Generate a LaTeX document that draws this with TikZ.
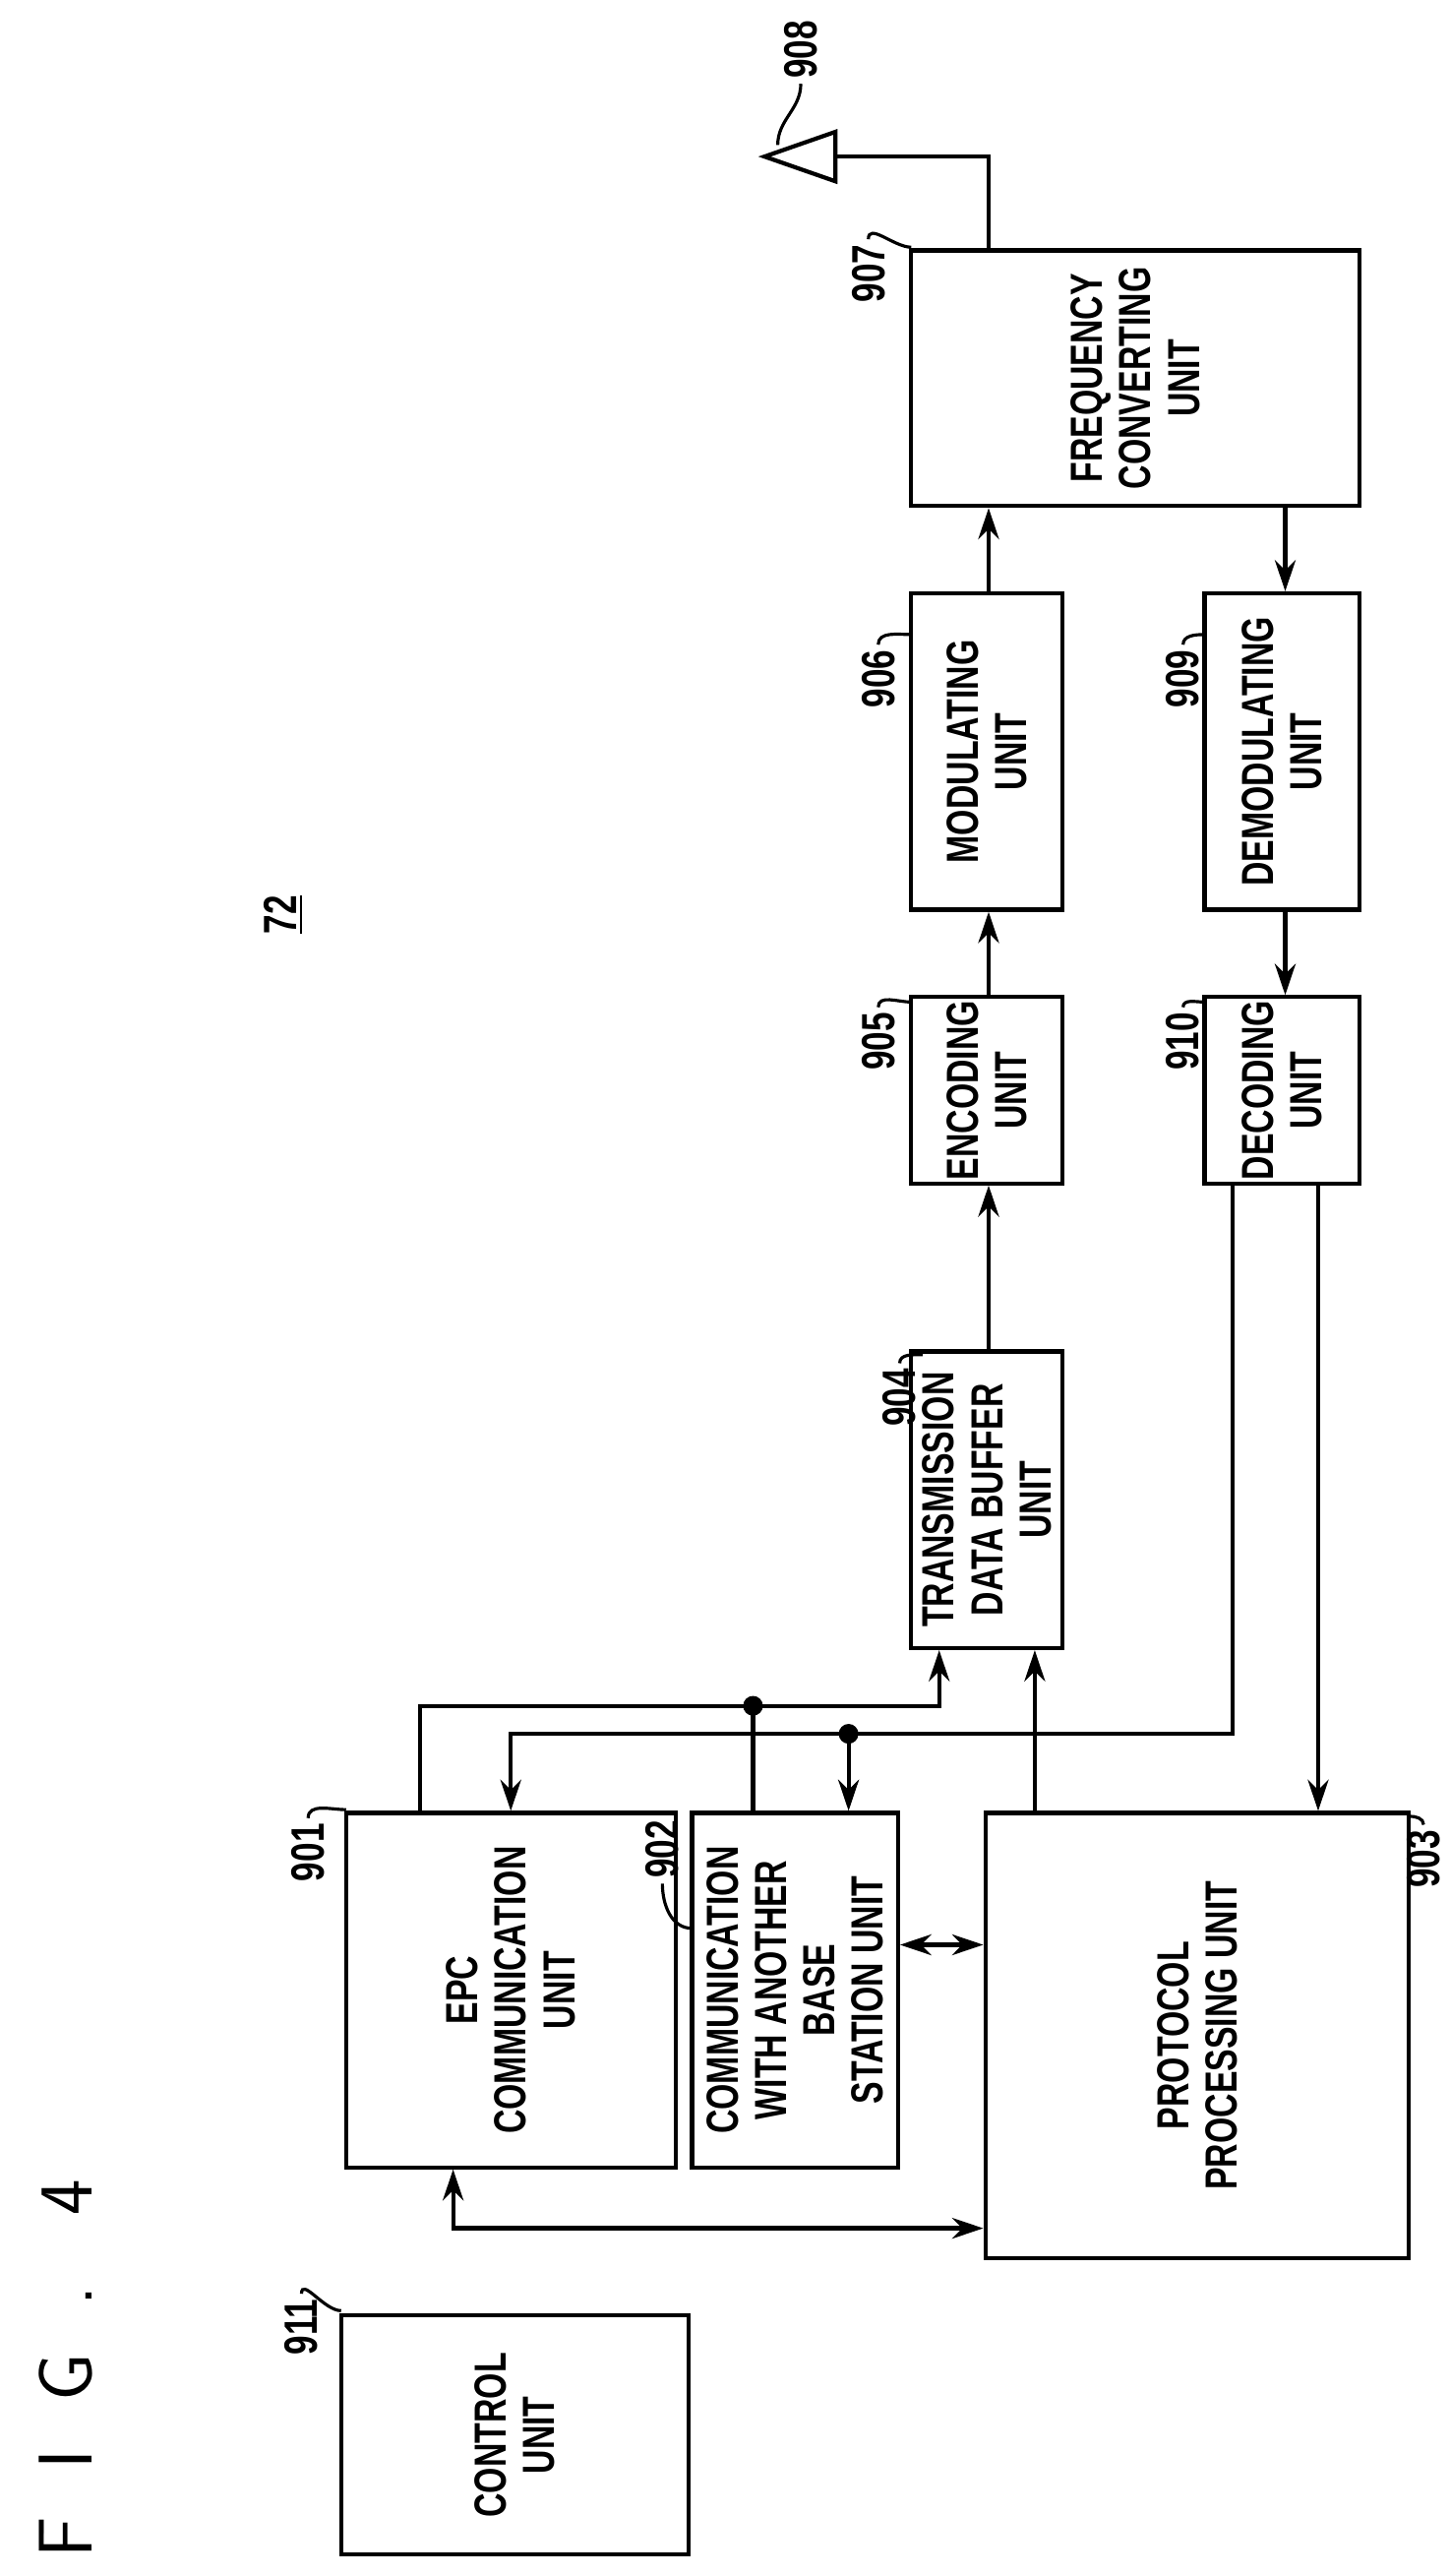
\documentclass[tikz,border=0pt]{standalone}
\usepackage{fontspec}
\newfontfamily\condfont[FakeStretch=0.74]{Liberation Sans}
\usetikzlibrary{arrows.meta,fit}
\begin{document}
\begin{tikzpicture}[x=0.01674cm,y=-0.01674cm,line width=1.2pt,
  box/.style={draw,inner sep=0pt},
  txt/.style={rotate=90,align=center,font=\condfont\bfseries\fontsize{13}{14}\selectfont},
  num/.style={rotate=90,font=\condfont\bfseries\fontsize{13.5}{13.5}\selectfont,inner sep=1pt},
  lead/.style={line width=0.9pt},
  arr/.style={-{Stealth[length=9pt,width=6pt]}},
  darr/.style={{Stealth[length=9pt,width=6pt]}-{Stealth[length=9pt,width=6pt]}}]
\useasboundingbox (0,0) rectangle (880,1563);
% blocks
\node[box,fit={(207,1405) (418,1550)}] (b911) {};
\node[box,fit={(210,1100) (410,1315)}] (b901) {};
\node[box,fit={(420,1100) (545,1315)}] (b902) {};
\node[box,fit={(598,1100) (855,1370)}] (b903) {};
\node[box,fit={(553,820) (645,1000)}] (b904) {};
\node[box,fit={(553,605) (645,718)}] (b905) {};
\node[box,fit={(553,360) (645,552)}] (b906) {};
\node[box,fit={(553,152) (825,307)}] (b907) {};
\node[box,fit={(731,360) (825,552)}] (b909) {};
\node[box,fit={(731,605) (825,718)}] (b910) {};
% texts
\node[txt] at (b911.center) {CONTROL\\UNIT};
\node[txt] at (b901.center) {EPC\\COMMUNICATION\\UNIT};
\node[txt] at (b902.center) {COMMUNICATION\\WITH ANOTHER\\BASE\\STATION UNIT};
\node[txt] at (b903.center) {PROTOCOL\\PROCESSING UNIT};
\node[txt] at (b904.center) {TRANSMISSION\\DATA BUFFER\\UNIT};
\node[txt] at (b905.center) {ENCODING\\UNIT};
\node[txt] at (b906.center) {MODULATING\\UNIT};
\node[txt] at (b907.center) {FREQUENCY\\CONVERTING\\UNIT};
\node[txt] at (b909.center) {DEMODULATING\\UNIT};
\node[txt] at (b910.center) {DECODING\\UNIT};
\node[rotate=90,font=\fontsize{22}{22}\selectfont\sffamily] (fig) at (40,1437) {F\ \ I\ \ G\ \ .\ \ \ 4};
\node[num] (n72) at (172,555) {\underline{72}};
% reference numbers
\node[num] (n911) at (183,1412) {911};
\node[num] (n901) at (187,1124) {901};
\node[num] (n902) at (402,1122) {902};
\node[num] (n903) at (864,1128) {903};
\node[num] (n904) at (546,848) {904};
\node[num] (n905) at (533,632) {905};
\node[num] (n906) at (533,412) {906};
\node[num] (n907) at (527,166) {907};
\node[num] (n908) at (486,30) {908};
\node[num] (n909) at (718,412) {909};
\node[num] (n910) at (718,632) {910};
\draw[lead] (n911.east) to[out=90,in=180] (207,1402);
\draw[lead] (n901.east) to[out=90,in=180] (210,1098);
\draw[lead] (n902.west) to[out=-90,in=180] (420,1170);
\draw[lead] (n903.east) to[out=90,in=0] (855,1102);
\draw[lead] (n904.east) to[out=90,in=180] (560,822);
\draw[lead] (n905.east) to[out=90,in=180] (553,608);
\draw[lead] (n906.east) to[out=90,in=180] (553,385);
\draw[lead] (n907.east) to[out=90,in=180] (553,150);
\draw[lead] (n909.east) to[out=90,in=180] (731,385);
\draw[lead] (n910.east) to[out=90,in=180] (731,608);
% antenna
\coordinate (ant) at (507,95);
\draw (ant) -- (507,80) -- (464,95) -- (507,110) -- cycle;
\draw[lead] (n908.west) to[out=-90,in=90] (472,88);
\draw (ant) -| (600,0 |- b907.north);
% signal paths
\draw[arr] (600,0 |- b904.north) -- (600,0 |- b905.south);
\draw[arr] (600,0 |- b905.north) -- (600,0 |- b906.south);
\draw[arr] (600,0 |- b906.north) -- (600,0 |- b907.south);
\draw[arr] (780,0 |- b907.south) -- (780,0 |- b909.north);
\draw[arr] (780,0 |- b909.south) -- (780,0 |- b910.north);
\draw[arr] (800,0 |- b910.south) -- (800,0 |- b903.north);
\draw[arr] (748,0 |- b910.south) |- (310,1052) -- (310,0 |- b901.north);
\draw[arr] (255,0 |- b901.north) |- (570,1035) -- (570,0 |- b904.south);
\draw[arr] (628,0 |- b903.north) -- (628,0 |- b904.south);
\fill (457,1035) circle (6);
\draw (457,1035) -- (457,0 |- b902.north);
\fill (515,1052) circle (6);
\draw[arr] (515,1052) -- (515,0 |- b902.north);
\draw[darr] (b902.east |- 0,1180) -- (b903.west |- 0,1180);
\draw[darr] (275,0 |- b901.south) |- (b903.west |- 0,1352);
\end{tikzpicture}
\end{document}
